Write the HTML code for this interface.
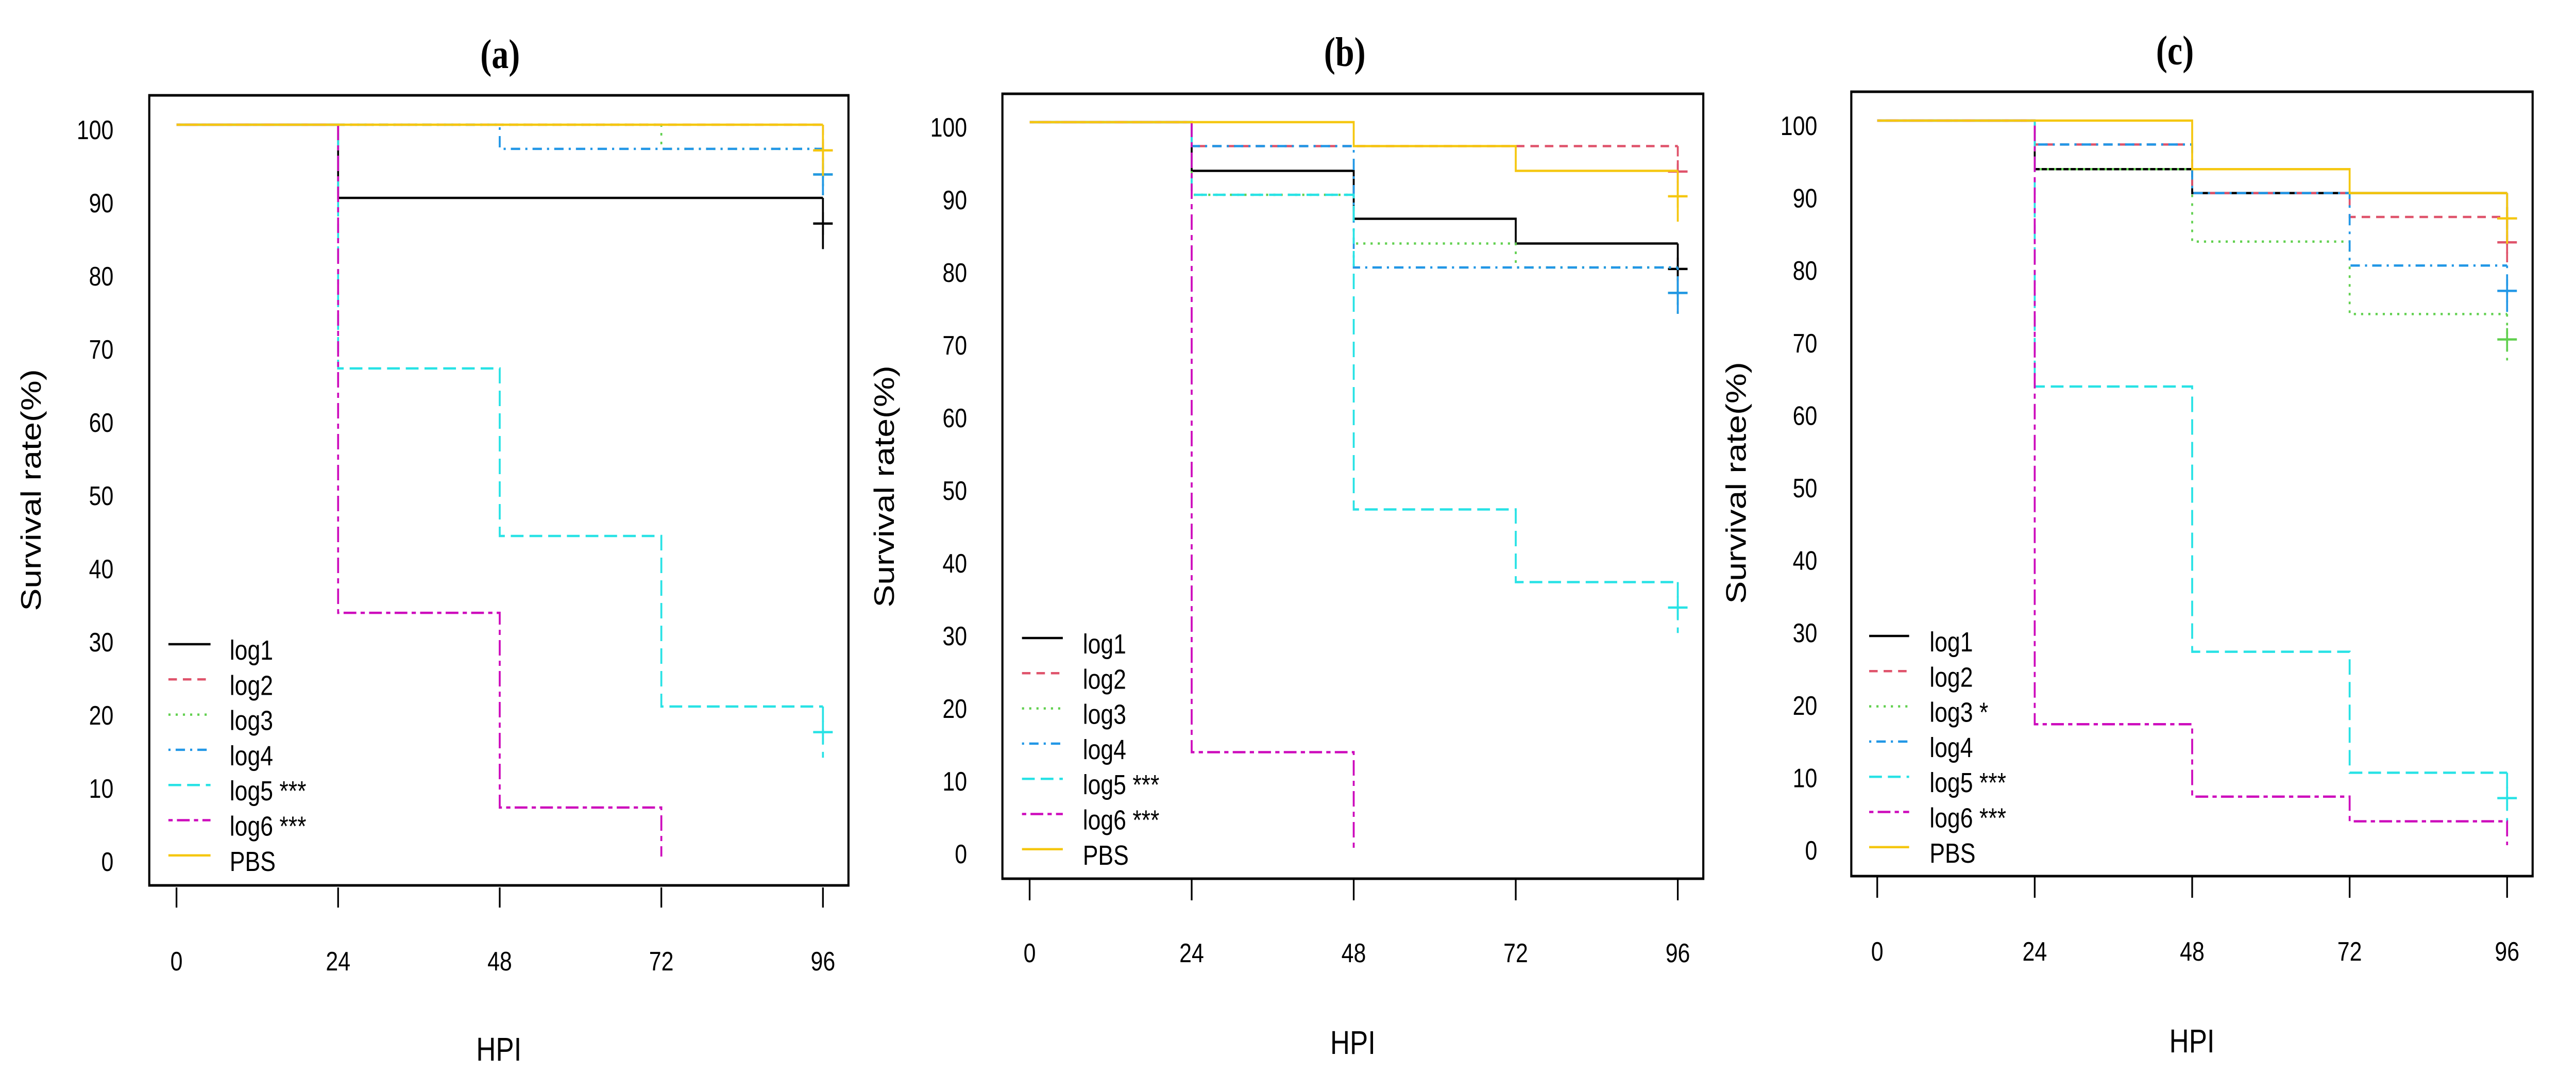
<!DOCTYPE html>
<html><head><meta charset="utf-8"><style>
html,body{margin:0;padding:0;background:#fff;overflow:hidden;width:100vw;height:100vh}
svg{display:block;width:100vw;height:100vh}
text{font-family:"Liberation Sans",sans-serif;fill:#000}
</style></head><body>
<svg id="fig" viewBox="0 0 6057 2115" preserveAspectRatio="none" xmlns="http://www.w3.org/2000/svg"></svg>
<script>
// ---- data ----
const times = [0, 24, 48, 72, 96];
const seriesNames = ["log1","log2","log3","log4","log5","log6","PBS"];
const panelTitles = ["(a)","(b)","(c)"];
const yTicks = [0,10,20,30,40,50,60,70,80,90,100];
const xTicks = [0,24,48,72,96];
// values at each time (null = series ended earlier); last value 0 = drop to zero, no censor
const panelA_log1 = [100, 90, 90, 90, 90];
const panelA_log2 = [100, 100, 100, 100, 100];
const panelA_log3 = [100, 100, 100, 96.7, 96.7];
const panelA_log4 = [100, 100, 96.7, 96.7, 96.7];
const panelA_log5 = [100, 66.7, 43.8, 20.5, 20.5];
const panelA_log6 = [100, 33.3, 6.7, 0, null];
const panelA_PBS  = [100, 100, 100, 100, 100];
const panelA_sig = ["","","","","***","***",""];

const panelB_log1 = [100, 93.3, 86.7, 83.3, 83.3];
const panelB_log2 = [100, 96.7, 96.7, 96.7, 96.7];
const panelB_log3 = [100, 90, 83.3, 80, 80];
const panelB_log4 = [100, 96.7, 80, 80, 80];
const panelB_log5 = [100, 90, 46.7, 36.7, 36.7];
const panelB_log6 = [100, 13.3, 0, null, null];
const panelB_PBS  = [100, 100, 96.7, 93.3, 93.3];
const panelB_sig = ["","","","","***","***",""];

const panelC_log1 = [100, 93.3, 90, 90, 90];
const panelC_log2 = [100, 96.7, 90, 86.7, 86.7];
const panelC_log3 = [100, 93.3, 83.3, 73.3, 73.3];
const panelC_log4 = [100, 96.7, 90, 80, 80];
const panelC_log5 = [100, 63.3, 26.7, 10, 10];
const panelC_log6 = [100, 16.7, 6.7, 3.3, 0];
const panelC_PBS  = [100, 100, 93.3, 90, 90];
const panelC_sig = ["","","*","","***","***",""];

// ---- styles / geometry ----
const colors = ["#000000","#DF536B","#61D04F","#2297E6","#28E2E5","#CD0BBC","#F5C710"];
const dashes = ["", "20 14", "5 12", "5 12 22 12", "30 14", "10 10 30 10", ""];
const panels = [
  {data:[panelA_log1,panelA_log2,panelA_log3,panelA_log4,panelA_log5,panelA_log6,panelA_PBS], sig:panelA_sig,
   box:[351,185,1995,1718], x0:415, x96:1935, y100:242, y0:1662, labR:267, ylx:74, yly:951, tcx:1176, tby:132,
   xlb:1883, hpi:2058, tk:[1722,1761], lg:[396,495,540,1250]},
  {data:[panelB_log1,panelB_log2,panelB_log3,panelB_log4,panelB_log5,panelB_log6,panelB_PBS], sig:panelB_sig,
   box:[2357,182,4005,1705], x0:2421, x96:3945, y100:237, y0:1647, labR:2274, ylx:2080, yly:944, tcx:3162, tby:128,
   xlb:1867, hpi:2045, tk:[1707,1747], lg:[2403,2499,2546,1238]},
  {data:[panelC_log1,panelC_log2,panelC_log3,panelC_log4,panelC_log5,panelC_log6,panelC_PBS], sig:panelC_sig,
   box:[4353,178,5955,1700], x0:4414, x96:5895, y100:234, y0:1640, labR:4273, ylx:4083, yly:937, tcx:5114, tby:125,
   xlb:1864, hpi:2042, tk:[1702,1742], lg:[4395,4489,4537,1234]}
];
const NS = "http://www.w3.org/2000/svg";
const svg = document.getElementById("fig");
function mk(tag, attrs, parent){
  const e = document.createElementNS(NS, tag);
  for (const k in attrs) e.setAttribute(k, attrs[k]);
  parent.appendChild(e); return e;
}
panels.forEach((P, pi) => {
  const g = mk("g", {}, svg);
  
  
  const X = t => P.x0 + (P.x96 - P.x0) * t / 96;
  const Y = v => P.y0 + (P.y100 - P.y0) * v / 100;
  const tt = mk("text", {x:P.tcx, y:P.tby, "text-anchor":"middle", "font-size":80, "font-weight":"bold", style:'font-family:"Liberation Serif",serif'}, g);
  tt.textContent = panelTitles[pi];
  
  
  const b = P.box;
  const bx = mk("rect", {x:b[0], y:b[1], width:b[2]-b[0], height:b[3]-b[1], fill:"none", stroke:"#000", "stroke-width":5}, g);
  
  
  yTicks.forEach(v => {
    const t = mk("text", {x:P.labR, y:Y(v)+28, "text-anchor":"end", "font-size":52}, g);
    t.textContent = v;
    
    
  });
  xTicks.forEach(v => {
    const l = mk("line", {x1:X(v), x2:X(v), y1:P.tk[0], y2:P.tk[1], stroke:"#000", "stroke-width":4}, g);
    
    
    const t = mk("text", {x:X(v), y:P.xlb, "text-anchor":"middle", "font-size":52}, g);
    t.textContent = v;
    
    
  });
  const xl = mk("text", {x:(b[0]+b[2])/2, y:P.hpi, "text-anchor":"middle", "font-size":64}, g);
  xl.textContent = "HPI";
  
  
  const yl = mk("text", {x:0, y:0, "text-anchor":"middle", "font-size":66, transform:`translate(${P.ylx+22},${P.yly}) rotate(-90)`}, g);
  yl.textContent = "Survival rate(%)";
  
  
  P.data.forEach((vals, si) => {
    let d = "M" + X(times[0]) + " " + Y(vals[0]);
    let last = 0;
    for (let i = 1; i < times.length; i++) {
      if (vals[i] === null) break;
      d += " H" + X(times[i]) + " V" + Y(vals[i]);
      last = i;
    }
    const p = mk("path", {d:d, fill:"none", stroke:colors[si], "stroke-width":4.5, "stroke-dasharray":dashes[si] || "none"}, g);
    
    
    if (last === times.length - 1 && vals[last] > 0) {
      const xe = X(96), v = vals[last];
      const vt = mk("line", {x1:xe, x2:xe, y1:Y(v), y2:Y(v-7), stroke:colors[si], "stroke-width":4.5, "stroke-dasharray":dashes[si] || "none"}, g);
      
      
      const cy = Y(v-3.5);
      const cm = mk("path", {d:`M${xe-23} ${cy} H${xe+23} M${xe} ${cy-22} V${cy+22}`, stroke:colors[si], "stroke-width":4.5, fill:"none"}, g);
      
      
    }
  });
  const L = P.lg;
  seriesNames.forEach((n, si) => {
    const y = L[3] + si * 68.3;
    const ln = mk("line", {x1:L[0], x2:L[1], y1:y, y2:y, stroke:colors[si], "stroke-width":4.5, "stroke-dasharray":dashes[si] || "none"}, g);
    
    
    const t = mk("text", {x:L[2], y:y+30, "font-size":54}, g);
    t.textContent = n + (P.sig[si] ? " " + P.sig[si] : "");
    
    
  });
});
</script>
</body></html>
